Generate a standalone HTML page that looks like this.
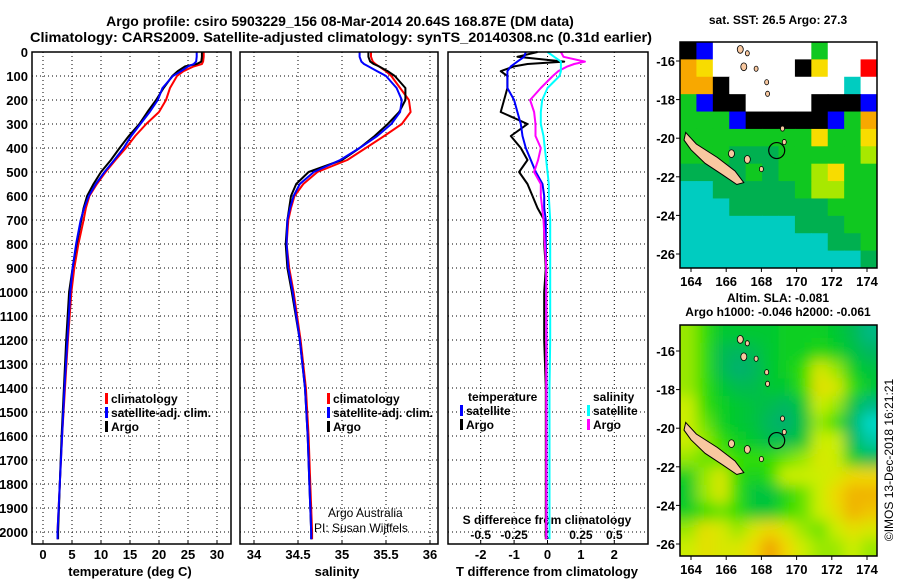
<!DOCTYPE html>
<html><head><meta charset="utf-8"><style>
body{margin:0;background:#fff;}
svg{display:block;font-family:"Liberation Sans",sans-serif;font-weight:bold;}
</style></head><body>
<svg id="fig" width="900" height="580" viewBox="0 0 900 580" xmlns="http://www.w3.org/2000/svg">
<defs>
<filter id="blur" x="-10%" y="-10%" width="120%" height="120%"><feGaussianBlur stdDeviation="7"/></filter>
<clipPath id="clipTop"><rect x="680" y="42" width="197" height="226"/></clipPath>
<clipPath id="clipBot"><rect x="680" y="325" width="197" height="231"/></clipPath>
</defs>
<text x="340" y="26" font-size="14" text-anchor="middle">Argo profile: csiro 5903229_156 08-Mar-2014 20.64S 168.87E (DM data)</text>
<text x="30" y="42" font-size="14" textLength="622" lengthAdjust="spacingAndGlyphs">Climatology: CARS2009. Satellite-adjusted climatology: synTS_20140308.nc (0.31d earlier)</text>
<text x="778" y="24" font-size="12" text-anchor="middle">sat. SST: 26.5 Argo: 27.3</text>
<text x="778" y="302" font-size="12" text-anchor="middle">Altim. SLA: -0.081</text>
<text x="778" y="316" font-size="12" text-anchor="middle">Argo h1000: -0.046 h2000: -0.061</text>
<text transform="translate(893,460) rotate(-90)" font-size="12" font-weight="normal" text-anchor="middle">©IMOS 13-Dec-2018 16:21:21</text>
<g id="g"></g>
</svg>
<script>
// ---- data ----
const depths = [0,20,40,50,60,80,100,150,200,250,300,350,400,450,500,550,600,650,700,800,900,1000,1200,1400,1600,1800,2000,2030];
const tempArgo = [27.4,27.4,27.3,26.5,24.5,23.2,22.3,20.8,19.5,18.0,16.6,14.8,13.2,11.7,10.0,8.7,7.6,7.0,6.6,5.8,5.1,4.5,4.0,3.6,3.2,2.9,2.6,2.6];
const tempClim = [27.7,27.7,27.6,27.4,26.0,24.2,23.1,21.9,21.2,20.0,17.8,15.9,14.3,12.5,10.8,9.3,8.0,7.4,7.0,6.1,5.4,4.9,4.3,3.8,3.3,2.9,2.5,2.5];
const tempSat = [26.5,26.5,26.4,26.0,25.0,23.8,22.4,20.6,19.8,18.4,16.8,15.2,13.9,12.3,10.6,9.1,7.9,7.1,6.5,5.7,5.1,4.7,4.2,3.7,3.3,2.9,2.5,2.5];
const salArgo = [35.3,35.3,35.32,35.36,35.42,35.52,35.6,35.72,35.72,35.65,35.52,35.37,35.2,35.0,34.62,34.48,34.42,34.4,34.38,34.36,34.38,34.43,34.52,34.58,34.61,34.63,34.65,34.65];
const salClim = [35.33,35.33,35.35,35.38,35.42,35.5,35.56,35.66,35.76,35.78,35.68,35.48,35.27,35.06,34.72,34.56,34.46,34.42,34.39,34.37,34.4,34.45,34.53,34.59,34.62,34.64,34.66,34.66];
const salSat = [35.2,35.2,35.22,35.25,35.3,35.4,35.5,35.62,35.68,35.66,35.56,35.4,35.2,34.98,34.68,34.52,34.45,34.41,34.38,34.37,34.39,34.44,34.52,34.58,34.61,34.63,34.65,34.65];
const dTArgo = [-0.3,-0.9,0.5,-0.6,-1.0,-1.4,-1.2,-1.2,-1.3,-1.4,-0.6,-1.1,-0.8,-0.6,-0.85,-0.6,-0.45,-0.3,-0.1,-0.1,-0.05,-0.1,-0.1,-0.05,-0.05,-0.05,-0.05,-0.05];
const dTSat = [-0.65,-0.7,-0.9,-1.0,-1.1,-1.2,-1.2,-1.2,-1.0,-0.9,-0.8,-0.75,-0.65,-0.5,-0.35,-0.15,-0.1,-0.1,-0.05,-0.05,-0.04,-0.04,-0.03,-0.03,-0.03,-0.03,-0.03,-0.03];
const dSArgo = [0.1,0.12,0.28,0.2,0.15,0.08,0.04,-0.05,-0.13,-0.1,-0.09,-0.09,-0.05,-0.07,-0.1,-0.05,-0.05,-0.04,-0.03,-0.02,-0.01,-0.01,-0.01,-0.01,-0.01,-0.01,-0.01,-0.01];
const dSSat = [0.0,0.05,0.1,0.1,0.1,0.1,0.09,0.0,-0.04,-0.05,-0.05,-0.03,-0.02,-0.01,0.0,0.01,0.01,0.015,0.02,0.02,0.02,0.02,0.02,0.015,0.015,0.015,0.015,0.015];
const depthTicks = [0,100,200,300,400,500,600,700,800,900,1000,1100,1200,1300,1400,1500,1600,1700,1800,1900,2000];
const tempTicks = [0,5,10,15,20,25,30];
const salTicks = [34,34.5,35,35.5,36];
const salTickLabels = ["34","34.5","35","35.5","36"];
const dTTicks = [-2,-1,0,1,2];
const dSTicks = [-0.5,-0.25,0,0.25,0.5];
const dSTickLabels = ["-0.5","-0.25","0","0.25","0.5"];
const lonTicks = [164,166,168,170,172,174];
const latTicks = [-16,-18,-20,-22,-24,-26];
const W = null, K = -1, B = -2;
const sstGrid = [
[K,B,W,W,W,W,W,W,26.5,W,W,W],
[28,27.5,W,W,W,W,W,K,27.5,W,W,28.5],
[28,28,K,W,W,W,W,W,W,W,25.5,W],
[26.5,B,K,K,W,W,W,W,K,K,K,B],
[26.5,26.5,26.5,B,K,K,K,K,K,B,26.5,28],
[26.5,26.5,26.5,26.5,26.5,26.5,26.5,26.5,27.5,26.5,26.5,27.5],
[26.5,26.5,26.5,26,26,26,26.5,26.5,26.5,26.5,26.5,27],
[26,26,26,26,26.5,26,26.5,26.5,27,27.5,26.5,26.5],
[25.5,25.5,26,26,26,26,26,26.5,27,27,26.5,26.5],
[25.5,25.5,25.5,26,26,26,26,26,26,26.5,26.5,26.5],
[25.5,25.5,25.5,25.5,25.5,25.5,25.5,26,26,26,26.5,26.5],
[25.5,25.5,25.5,25.5,25.5,25.5,25.5,25.5,25.5,26,26,26.5],
[25.5,25.5,25.5,25.5,25.5,25.5,25.5,25.5,25.5,25.5,25.5,26]];
const slaGrid = [
[0.02,0,-0.03,-0.03,-0.03,-0.03,-0.02,-0.02,-0.02,-0.03,-0.05,-0.08],
[0.02,0,-0.05,-0.06,-0.05,-0.03,-0.02,-0.02,-0.01,-0.02,-0.04,-0.06],
[0.02,0,-0.05,-0.07,-0.06,-0.03,-0.02,0,0.04,0.02,-0.02,-0.04],
[0.02,0,-0.03,-0.05,-0.05,-0.03,-0.03,0,0.05,0.04,0,-0.03],
[0.03,0,-0.02,-0.03,-0.04,-0.05,-0.06,-0.03,0.03,0.02,-0.04,-0.08],
[0.03,0.01,-0.02,-0.03,-0.04,-0.06,-0.07,-0.04,0.02,0,-0.06,-0.12],
[0.03,0.02,0,-0.02,-0.03,-0.05,-0.05,-0.03,0.03,0.03,-0.05,-0.1],
[0.02,0.01,0.01,0,0,0,0.01,0.02,0.04,0.03,-0.02,-0.05],
[-0.02,0.02,0.04,0,-0.02,0,0.03,0.03,0.03,0.04,0.06,0.06],
[-0.03,0.02,0.04,0,-0.04,-0.04,-0.01,0.01,0.03,0.06,0.08,0.08],
[-0.02,0,0.01,0,-0.03,-0.03,0,0.01,0.03,0.05,0.08,0.07],
[0.02,0.05,0.04,0.02,0.04,0.06,0.04,0.02,0.01,0.03,0.05,0.04],
[0.03,0.05,0.04,0.04,0.06,0.09,0.06,0.03,0.02,0.02,0.03,0.02]];
const ncLon = [163.7,164.3,165.5,166.5,167.0,166.6,165.8,164.8,164.0,163.6];
const ncLat = [-19.7,-20.3,-21.0,-21.7,-22.3,-22.4,-21.9,-21.3,-20.6,-20.1];
const isleLon = [166.8,167.2,167.0,167.7,168.3,168.35,169.2,169.3,166.3,167.2,168.0];
const isleLat = [-15.4,-15.6,-16.3,-16.4,-17.1,-17.7,-19.5,-20.2,-20.8,-21.1,-21.6];
const isleR = [3,2,3,2,2,2,2,2,3,3,2];
const profLon = 168.87, profLat = -20.64;

// ---- helpers ----
const NS = "http://www.w3.org/2000/svg";
const root = document.getElementById('g');
function mk(tag, at, parent) { const e = document.createElementNS(NS, tag); for (const k in at) e.setAttribute(k, at[k]); (parent || root).appendChild(e); return e; }
function txt(x, y, s, size, anchor, name, weight) {
  const t = mk('text', {x: x, y: y, 'font-size': size, 'text-anchor': anchor || 'middle'});
  if (weight) t.setAttribute('font-weight', weight);
  t.textContent = s;
  
  
  return t;
}
const TOP = 52, BOT = 544;
const yD = d => TOP + d * 0.24;
const xT = v => 43 + v * 5.8;
const xS = v => 254 + (v - 34) * 88;
const xDT = v => 547.5 + v * 33.4;
const xDS = v => 547.5 + v * 133.6;
const panels = [[32, 231], [240, 438], [448, 648]];

panels.forEach((p, i) => {
  depthTicks.forEach(d => {
    const l = mk('line', {x1: p[0], x2: p[1], y1: yD(d), y2: yD(d), stroke: '#000', 'stroke-width': 1, 'stroke-dasharray': '1,3'});
    
    
  });
});
function vgrid(ticks, fx, p, name) {
  ticks.forEach(v => {
    const l = mk('line', {x1: fx(v), x2: fx(v), y1: TOP, y2: BOT, stroke: '#000', 'stroke-width': 1, 'stroke-dasharray': '1,3'});
    
    
    const tk = mk('line', {x1: fx(v), x2: fx(v), y1: BOT, y2: BOT - 4, stroke: '#000', 'stroke-width': 1});
    
    
  });
}
vgrid(tempTicks, xT, panels[0], 'temperature-gridline');
vgrid(salTicks, xS, panels[1], 'salinity-gridline');
vgrid(dTTicks, xDT, panels[2], 'difference-gridline');

depthTicks.forEach(d => { txt(28, yD(d) + 5, String(d), 13, 'end', 'depth-tick-label'); });
tempTicks.forEach(v => { txt(xT(v), 559, String(v), 13, 'middle', 'temperature-tick-label'); });
salTicks.forEach((v, i) => { txt(xS(v), 559, salTickLabels[i], 13, 'middle', 'salinity-tick-label'); });
dTTicks.forEach(v => { txt(xDT(v), 559, String(v), 13, 'middle', 't-difference-tick-label'); });
dSTicks.forEach((v, i) => { txt(xDS(v), 539, dSTickLabels[i], 12, 'middle', 's-difference-tick-label'); });
txt(130, 576, 'temperature (deg C)', 13, 'middle', 'temperature-axis-title');
txt(337, 576, 'salinity', 13, 'middle', 'salinity-axis-title');
txt(547, 576, 'T difference from climatology', 13, 'middle', 't-difference-axis-title');
txt(547, 524, 'S difference from climatology', 12, 'middle', 's-difference-axis-title');
txt(328, 517, 'Argo Australia', 12, 'start', 'argo-australia-credit', 'normal');
txt(314, 532, 'PI: Susan Wijffels', 12, 'start', 'pi-credit', 'normal');

function series(vals, fx, color, name) {
  const pts = vals.map((v, i) => fx(v).toFixed(1) + ',' + yD(depths[i]).toFixed(1)).join(' ');
  const l = mk('polyline', {points: pts, fill: 'none', stroke: color, 'stroke-width': 2, 'stroke-linejoin': 'round'});
  
  
}
series(tempClim, xT, '#ff0000', 'temperature-climatology-line');
series(tempArgo, xT, '#000000', 'temperature-argo-line');
series(tempSat, xT, '#0000ff', 'temperature-satellite-line');
series(salClim, xS, '#ff0000', 'salinity-climatology-line');
series(salArgo, xS, '#000000', 'salinity-argo-line');
series(salSat, xS, '#0000ff', 'salinity-satellite-line');
series(dTArgo, xDT, '#000000', 't-difference-argo-line');
series(dTSat, xDT, '#0000ff', 't-difference-satellite-line');
series(dSArgo, xDS, '#ff00ff', 's-difference-argo-line');
series(dSSat, xDS, '#00ffff', 's-difference-satellite-line');

panels.forEach(p => {
  const r = mk('rect', {x: p[0], y: TOP, width: p[1] - p[0], height: BOT - TOP, fill: 'none', stroke: '#000', 'stroke-width': 1.5});
  
  
});

function legendEntry(x, y, color, label, name) {
  const b = mk('rect', {x: x, y: y - 10, width: 3, height: 11, fill: color});
  
  
  txt(x + 6, y, label, 12, 'start', name);
}
legendEntry(105, 403, '#ff0000', 'climatology', 'legend-entry-climatology');
legendEntry(105, 417, '#0000ff', 'satellite-adj. clim.', 'legend-entry-satellite');
legendEntry(105, 431, '#000000', 'Argo', 'legend-entry-argo');
legendEntry(327, 403, '#ff0000', 'climatology', 'legend-entry-climatology');
legendEntry(327, 417, '#0000ff', 'satellite-adj. clim.', 'legend-entry-satellite');
legendEntry(327, 431, '#000000', 'Argo', 'legend-entry-argo');
txt(468, 401, 'temperature', 12, 'start', 'legend-title-temperature');
legendEntry(460, 415, '#0000ff', 'satellite', 'legend-entry-t-satellite');
legendEntry(460, 429, '#000000', 'Argo', 'legend-entry-t-argo');
txt(593, 401, 'salinity', 12, 'start', 'legend-title-salinity');
legendEntry(587, 415, '#00ffff', 'satellite', 'legend-entry-s-satellite');
legendEntry(587, 429, '#ff00ff', 'Argo', 'legend-entry-s-argo');

const mapX0 = 680, mapX1 = 877;
const lonX = lon => 691 + (lon - 164) * 17.6;
function sstColor(v) {
  if (v === null) return '#ffffff';
  if (v === -1) return '#000000';
  if (v === -2) return '#0000ff';
  if (v <= 25.6) return '#00ccc0';
  if (v <= 26.1) return '#00b050';
  if (v <= 26.6) return '#10c820';
  if (v <= 27.1) return '#a8e800';
  if (v <= 27.6) return '#f8dc00';
  if (v <= 28.1) return '#f8a800';
  return '#ff0000';
}
const slaStops = [[-0.12,[0,216,200]],[-0.07,[0,176,112]],[-0.03,[0,200,48]],[0,[51,221,0]],[0.03,[204,238,0]],[0.06,[240,216,0]],[0.09,[240,160,0]]];
function slaColor(v) {
  if (v <= slaStops[0][0]) return 'rgb(' + slaStops[0][1] + ')';
  for (let i = 1; i < slaStops.length; i++) {
    if (v <= slaStops[i][0]) {
      const a = slaStops[i-1], b = slaStops[i], f = (v - a[0]) / (b[0] - a[0]);
      return 'rgb(' + a[1].map((c, j) => Math.round(c + (b[1][j] - c) * f)).join(',') + ')';
    }
  }
  return 'rgb(' + slaStops[slaStops.length-1][1] + ')';
}
function drawMap(grid, y0, y1, latY, colorFn, clip, blur, name) {
  const g = mk('g', {'clip-path': 'url(#' + clip + ')'});
  
  
  const rows = grid.length, cols = grid[0].length;
  const cw = (mapX1 - mapX0) / cols, ch = (y1 - y0) / rows;
  if (blur) mk('rect', {x: mapX0, y: y0, width: mapX1 - mapX0, height: y1 - y0, fill: '#33cc10'}, g);
  const inner = blur ? mk('g', {filter: 'url(#blur)'}, g) : g;
  grid.forEach((row, r) => row.forEach((v, c) => {
    let x = mapX0 + c * cw, y = y0 + r * ch, w = cw + 0.6, h = ch + 0.6;
    if (blur) { if (c === 0) { x -= 14; w += 14; } if (c === cols - 1) w += 14; if (r === 0) { y -= 14; h += 14; } if (r === rows - 1) h += 14; }
    const cell = mk('rect', {x: x, y: y, width: w, height: h, fill: colorFn(v)}, inner);
    
    
  }));
  const nc = mk('polygon', {points: ncLon.map((lo, i) => lonX(lo).toFixed(1) + ',' + latY(ncLat[i]).toFixed(1)).join(' '), fill: '#f8c8a0', stroke: '#000', 'stroke-width': 1}, g);
  
  
  isleLon.forEach((lo, i) => {
    const e = mk('ellipse', {cx: lonX(lo), cy: latY(isleLat[i]), rx: isleR[i], ry: isleR[i] * 1.3, fill: '#f8c8a0', stroke: '#000', 'stroke-width': 0.8}, g);
    
    
  });
  const pc = mk('circle', {cx: lonX(profLon), cy: latY(profLat), r: 8, fill: 'none', stroke: '#000', 'stroke-width': 1.2}, g);
  
  
  const fr = mk('rect', {x: mapX0, y: y0, width: mapX1 - mapX0, height: y1 - y0, fill: 'none', stroke: '#000', 'stroke-width': 1.5});
  
  
  latTicks.forEach(lat => {
    const tk = mk('line', {x1: mapX0, x2: mapX0 - 4, y1: latY(lat), y2: latY(lat), stroke: '#000'});
    
    
    txt(675, latY(lat) + 5, String(lat), 13, 'end', 'latitude-tick-label');
  });
  lonTicks.forEach(lon => {
    const tk = mk('line', {x1: lonX(lon), x2: lonX(lon), y1: y1, y2: y1 + 4, stroke: '#000'});
    
    
    txt(lonX(lon), y1 + 18, String(lon), 13, 'middle', 'longitude-tick-label');
  });
}
drawMap(sstGrid, 42, 268, lat => 61 + (-16 - lat) * 19.3, sstColor, 'clipTop', false, 'sst-map');
drawMap(slaGrid, 325, 556, lat => 351 + (-16 - lat) * 19.3, slaColor, 'clipBot', true, 'sla-map');
</script>
</body></html>
